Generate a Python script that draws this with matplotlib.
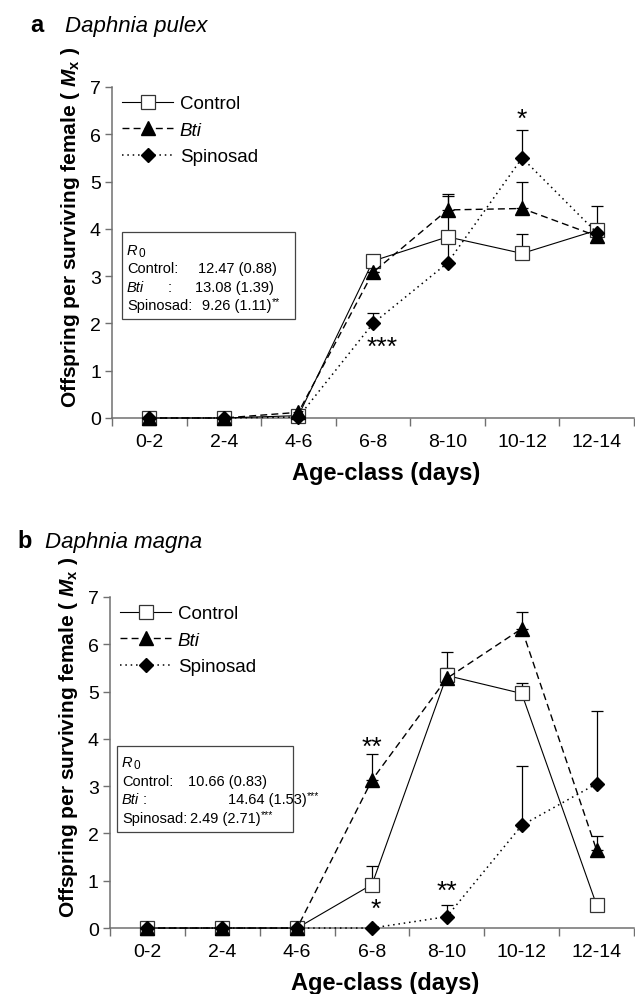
import matplotlib
matplotlib.use('Agg')
from matplotlib import pyplot as plt
from matplotlib.patches import Rectangle
import numpy as np

plt.rcParams['font.family'] = ['Liberation Sans', 'DejaVu Sans']
plt.rcParams['mathtext.fontset'] = 'custom'
plt.rcParams['mathtext.rm'] = 'Liberation Sans'
plt.rcParams['mathtext.it'] = 'Liberation Sans:italic:bold'
plt.rcParams['mathtext.bf'] = 'Liberation Sans:bold'
plt.rcParams['mathtext.sf'] = 'Liberation Sans:italic'

age_classes = ['0-2', '2-4', '4-6', '6-8', '8-10', '10-12', '12-14']

# panel a, Daphnia pulex
pulex_control = [0, 0, 0.05, 3.32, 3.83, 3.48, 3.97]
pulex_control_err = [0, 0, 0.05, 0, 0, 0.41, 0.51]
pulex_bti = [0, 0, 0.12, 3.08, 4.40, 4.43, 3.85]
pulex_bti_err = [0, 0, 0.05, 0, 0.30, 0.56, 0]
pulex_spinosad = [0, 0, 0.02, 2.00, 3.28, 5.50, 3.92]
pulex_spinosad_err = [0, 0, 0, 0.22, 1.45, 0.60, 0]

# panel b, Daphnia magna
magna_control = [0, 0, 0, 0.92, 5.34, 4.96, 0.49]
magna_control_err = [0, 0, 0, 0.39, 0.16, 0.23, 0]
magna_bti = [0, 0, 0, 3.13, 5.28, 6.33, 1.65]
magna_bti_err = [0, 0, 0, 0.56, 0.56, 0.35, 0.30]
magna_spinosad = [0, 0, 0, 0, 0.24, 2.17, 3.05]
magna_spinosad_err = [0, 0, 0, 0, 0.25, 1.26, 1.54]

# significance stars: (age-class index, y, text)
pulex_stars = [(5, 6.33, '*'), (3.12, 1.5, '***')]
magna_stars = [(3, 3.83, '**'), (3.05, 0.4, '*'), (4, 0.79, '**')]

pulex_r0 = ['12.47 (0.88)', '13.08 (1.39)', '9.26 (1.11)']
pulex_r0_sig = ['', '', '**']
magna_r0 = ['10.66 (0.83)', '14.64 (1.53)', '2.49 (2.71)']
magna_r0_sig = ['', '***', '***']

axis_grey = '#707070'


def draw_panel(ax, control, control_err, bti, bti_err, spin, spin_err, stars):
    x = np.arange(len(age_classes))
    zeros = np.zeros(len(x))
    for y, e in [(spin, spin_err), (bti, bti_err), (control, control_err)]:
        ax.errorbar(x, y, yerr=[zeros, e], fmt='none', ecolor='black',
                    elinewidth=0.9, capsize=4.5, capthick=0.9, zorder=2)
    ax.plot(x, control, linestyle='-', color='black', lw=0.8,
            marker='s', markersize=9.5, markerfacecolor='white',
            markeredgecolor='#333333', markeredgewidth=0.9,
            label='Control', zorder=3, clip_on=False)
    ax.plot(x, bti, linestyle=(0, (5, 3)), color='black', lw=1.0,
            marker='^', markersize=9.5, markerfacecolor='black',
            markeredgecolor='black', label='Bti', zorder=4, clip_on=False)
    ax.plot(x, spin, linestyle=(0, (1, 2.5)), color='black', lw=1.1,
            marker='D', markersize=7.5, markerfacecolor='black',
            markeredgecolor='black', label='Spinosad', zorder=5,
            clip_on=False)
    for sx, sy, s in stars:
        ax.text(sx, sy, s, ha='center', va='center', fontsize=19)

    ax.set_xlim(-0.5, len(age_classes) - 0.5)
    ax.set_ylim(0, 7)
    ax.set_yticks(range(8))
    ax.set_xticks(np.arange(-0.5, len(age_classes)), minor=False)
    ax.set_xticklabels([])
    ax.set_xticks(x, minor=True)
    ax.set_xticklabels(age_classes, minor=True)
    ax.tick_params(axis='x', which='major', length=6, width=1,
                   color=axis_grey, direction='out')
    ax.tick_params(axis='x', which='minor', length=0, pad=11,
                   labelsize=14)
    ax.tick_params(axis='y', length=5, width=1, color=axis_grey,
                   direction='out', labelsize=14, pad=3)
    for side in ['top', 'right']:
        ax.spines[side].set_visible(False)
    for side in ['left', 'bottom']:
        ax.spines[side].set_color(axis_grey)
        ax.spines[side].set_linewidth(1.1)

    ax.set_xlabel('Age-class (days)', fontsize=17, fontweight='bold')
    ax.xaxis.set_label_coords(0.525, -0.13)
    ax.set_ylabel(r'Offspring per surviving female ( $M_\mathbf{x}$ )',
                  fontsize=15, fontweight='bold')
    ax.yaxis.set_label_coords(-0.058, 0.58)

    leg = ax.legend(loc='upper left', bbox_to_anchor=(0.02, 0.975),
                    frameon=False, fontsize=13.5, handlelength=2.7,
                    handletextpad=0.35, labelspacing=0.5, borderpad=0,
                    borderaxespad=0)
    leg.get_texts()[1].set_fontstyle('italic')


def draw_r0_box(ax, box, label_x, colon_x, value_x, rows_y, values, sigs):
    x0, y0, x1, y1 = box
    ax.add_patch(Rectangle((x0, y0), x1 - x0, y1 - y0, transform=ax.transAxes,
                           facecolor='white', edgecolor='#444444', lw=0.9,
                           zorder=6))
    kw = dict(transform=ax.transAxes, fontsize=10.5, va='baseline', zorder=7)
    r = ax.text(label_x, rows_y[0], 'R', fontstyle='italic', **kw)
    ax.annotate('0', xy=(1, 0.0), xycoords=r, fontsize=8.5, va='bottom',
                ha='left', xytext=(0.5, -1.5), textcoords='offset points',
                zorder=8)
    ax.text(label_x, rows_y[1], 'Control:', **kw)
    ax.text(label_x, rows_y[2], 'Bti', fontstyle='italic', **kw)
    ax.text(colon_x, rows_y[2], ':', **kw)
    ax.text(label_x, rows_y[3], 'Spinosad:', **kw)
    for vx, vy, v, s in zip(value_x, rows_y[1:], values, sigs):
        t = ax.text(vx, vy, v, **kw)
        if s:
            ax.annotate(s, xy=(1, 0.45), xycoords=t, fontsize=7.5,
                        va='bottom', ha='left', xytext=(0.3, 0),
                        textcoords='offset points', zorder=8)


fig = plt.figure(figsize=(6.35, 9.95), dpi=100)

ax_a = fig.add_axes([0.1764, 0.5789, 0.822, 0.3327])
draw_panel(ax_a, pulex_control, pulex_control_err, pulex_bti, pulex_bti_err,
           pulex_spinosad, pulex_spinosad_err, pulex_stars)
draw_r0_box(ax_a, (0.019, 0.299, 0.3506, 0.562), 0.0287, 0.1073,
            [0.1648, 0.159, 0.1724], [0.4955, 0.4402, 0.3846, 0.3293],
            pulex_r0, pulex_r0_sig)

ax_b = fig.add_axes([0.1732, 0.0663, 0.8252, 0.3327])
draw_panel(ax_b, magna_control, magna_control_err, magna_bti, magna_bti_err,
           magna_spinosad, magna_spinosad_err, magna_stars)
draw_r0_box(ax_b, (0.0134, 0.29, 0.349, 0.55), 0.0229, 0.063,
            [0.1489, 0.2252, 0.1527], [0.4894, 0.432, 0.3776, 0.3202],
            magna_r0, magna_r0_sig)

fig.text(0.0472, 0.9678, 'a', fontsize=17, fontweight='bold', va='baseline')
fig.text(0.1024, 0.9678, 'Daphnia pulex', fontsize=16, fontstyle='italic',
         va='baseline')
fig.text(0.0268, 0.4492, 'b', fontsize=17, fontweight='bold', va='baseline')
fig.text(0.0709, 0.4492, 'Daphnia magna', fontsize=16, fontstyle='italic',
         va='baseline')

fig.savefig('out.png', dpi=100)
